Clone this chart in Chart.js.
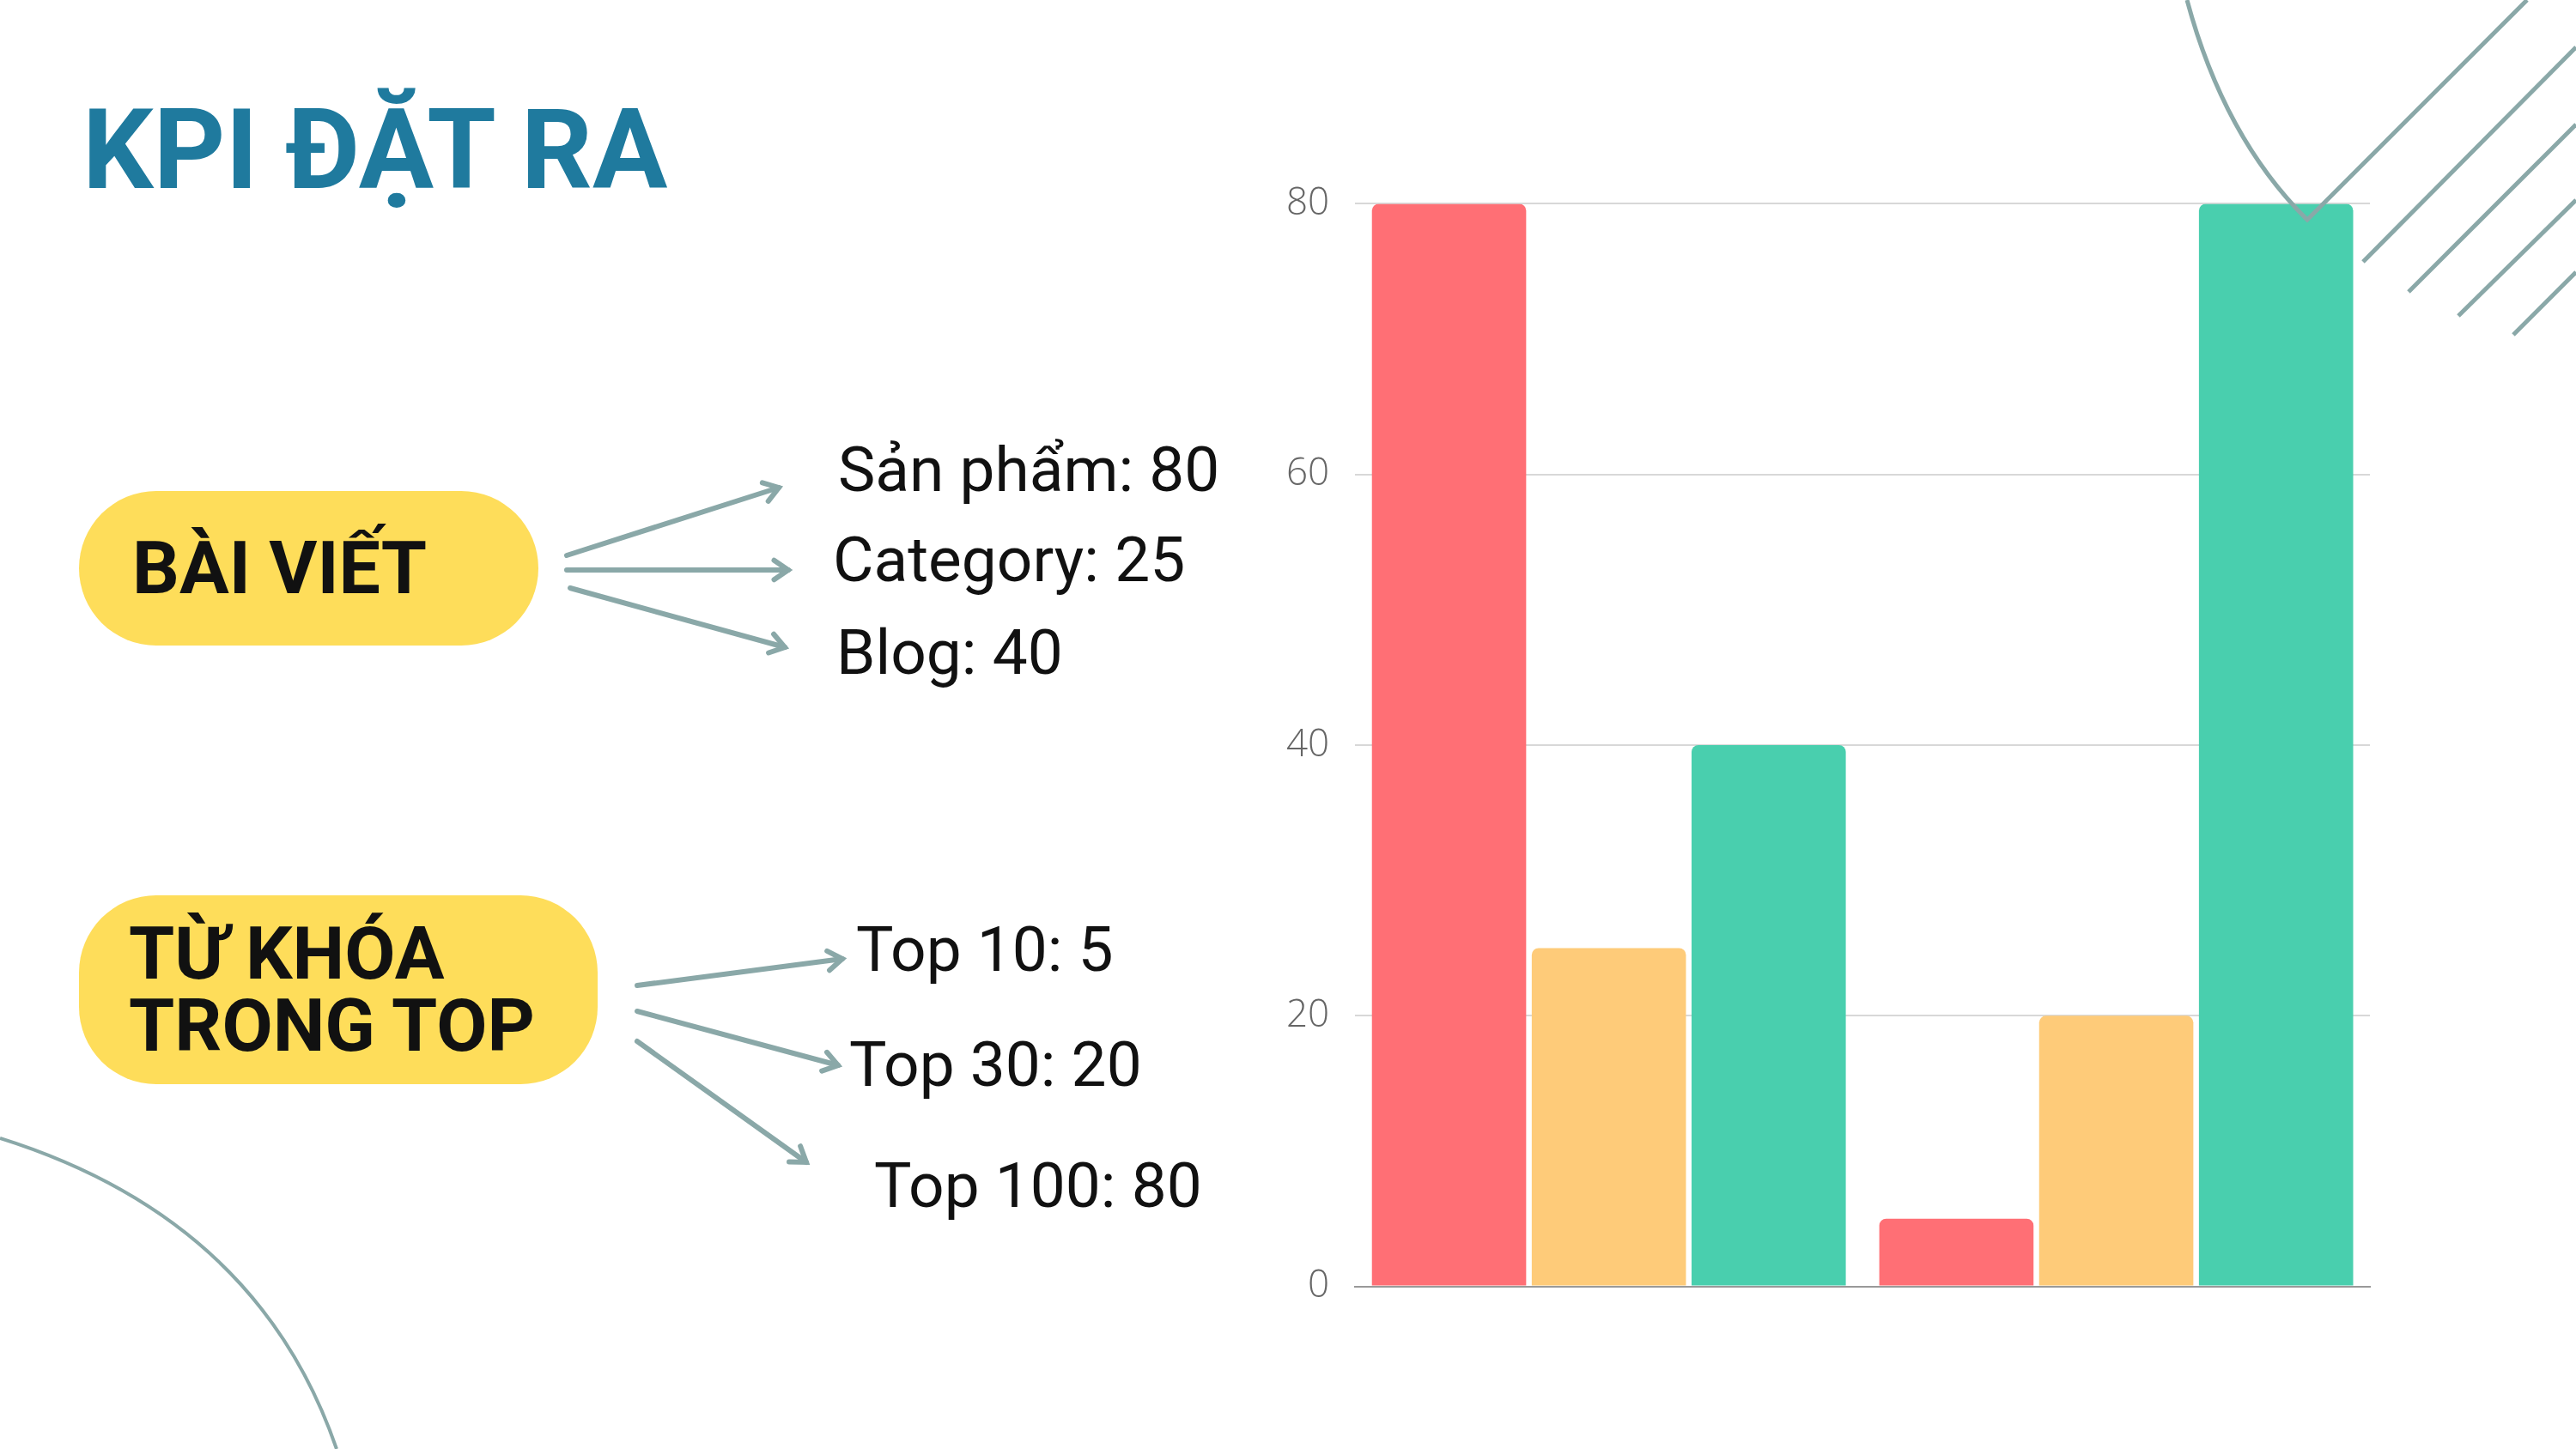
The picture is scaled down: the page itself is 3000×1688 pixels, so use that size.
<!DOCTYPE html>
<html>
<head>
<meta charset="utf-8">
<script src="https://cdn.jsdelivr.net/npm/chart.js@4"></script>
<style>
  body { margin: 0; background: #fff; }
  #page { position: relative; width: 3000px; height: 1688px; overflow: hidden; font-family: Roboto, sans-serif; }
  #chartBox { position: absolute; left: 1468px; top: 181px; width: 1312px; height: 1374px; }
  .title { position: absolute; left: 96px; top: 98px; font-size: 130px; font-weight: 700; color: #1f7a9e; }
  .pill { position: absolute; background: #fedd5a; border-radius: 90px; font-weight: 700; color: #111; font-size: 86px; line-height: 84px; }
  .lbl { position: absolute; font-size: 73px; color: #111; white-space: nowrap; transform: translateY(-50%); }
  svg { position: absolute; left: 0; top: 0; pointer-events: none; }
</style>
</head>
<body>
<div id="page">
  <div class="title">KPI ĐẶT RA</div>
  <div class="pill" style="left:92px;top:572px;width:535px;height:180px;"><div style="position:absolute;left:62px;top:48px;">BÀI VIẾT</div></div>
  <div class="pill" style="left:92px;top:1043px;width:604px;height:220px;"><div style="position:absolute;left:58px;top:26px;">TỪ KHÓA<br>TRONG TOP</div></div>
  <div class="lbl" style="left:976px;top:547px;">Sản phẩm: 80</div>
  <div class="lbl" style="left:970px;top:652px;">Category: 25</div>
  <div class="lbl" style="left:974px;top:760px;">Blog: 40</div>
  <div class="lbl" style="left:997px;top:1106px;">Top 10: 5</div>
  <div class="lbl" style="left:989px;top:1240px;">Top 30: 20</div>
  <div class="lbl" style="left:1018px;top:1381px;">Top 100: 80</div>
  <div id="chartBox"><canvas id="kpiChart"></canvas></div>
  <svg width="3000" height="1688" id="deco"></svg>
</div>
<script>
const categories = ["Bài viết", "Từ khóa trong top"];
const seriesNames = ["Sản phẩm / Top 10", "Category / Top 30", "Blog / Top 100"];
const seriesRed = [80, 5];
const seriesYellow = [25, 20];
const seriesGreen = [40, 80];
const yTicks = [0, 20, 40, 60, 80];

// arrows and decorative lines
const deco = document.getElementById("deco");
const stroke = "#8aa8a8";
const arrows = [
  [660, 647, 907, 568], [660, 664, 918, 664], [664, 685, 914, 754],
  [742, 1148, 981, 1117], [742, 1178, 976, 1241], [742, 1213, 939, 1354]
];
let svg = "";
arrows.forEach(([x1, y1, x2, y2]) => {
  const a = Math.atan2(y2 - y1, x2 - x1);
  const h = 20;
  const p1 = [x2 - h * Math.cos(a - 0.6), y2 - h * Math.sin(a - 0.6)];
  const p2 = [x2 - h * Math.cos(a + 0.6), y2 - h * Math.sin(a + 0.6)];
  svg += `<line x1="${x1}" y1="${y1}" x2="${x2}" y2="${y2}" stroke="${stroke}" stroke-width="6" stroke-linecap="round"/>`;
  svg += `<polyline points="${p1} ${x2},${y2} ${p2}" fill="none" stroke="${stroke}" stroke-width="6" stroke-linecap="round"/>`;
});
svg += `<path d="M2547,0 Q2590,160 2687,256 L2943,0" fill="none" stroke="${stroke}" stroke-width="5"/>`;
[[2752, 305, 3000, 55], [2805, 340, 3000, 145], [2863, 368, 3000, 233], [2927, 390, 3000, 317]].forEach(([x1, y1, x2, y2]) => {
  svg += `<line x1="${x1}" y1="${y1}" x2="${x2}" y2="${y2}" stroke="${stroke}" stroke-width="5"/>`;
});
svg += `<path d="M0,1326 Q300,1420 392,1688" fill="none" stroke="${stroke}" stroke-width="4"/>`;
deco.innerHTML = svg;

const ctx = document.getElementById("kpiChart").getContext("2d");
const mk = (label, data, color) => ({
  label, data, backgroundColor: color, borderRadius: { topLeft: 8, topRight: 8 }, borderSkipped: "bottom",
  categoryPercentage: 0.945, barPercentage: 0.965
});
new Chart(ctx, {
  type: "bar",
  data: {
    labels: categories,
    datasets: [
      mk(seriesNames[0], seriesRed, "#ff6f75"),
      mk(seriesNames[1], seriesYellow, "#fecb79"),
      mk(seriesNames[2], seriesGreen, "#49cfae")
    ]
  },
  options: {
    responsive: true,
    maintainAspectRatio: false,
    animation: false,
    layout: { padding: { top: 20, right: 20 } },
    plugins: { legend: { display: false }, tooltip: { enabled: false } },
    scales: {
      x: {
        ticks: { display: false },
        grid: { display: false },
        border: { color: "#999", width: 2 }
      },
      y: {
        min: 0, max: 80,
        afterBuildTicks: axis => { axis.ticks = yTicks.map(v => ({ value: v })); },
        ticks: { color: "#666", font: { family: "Open Sans", weight: 300, size: 44 }, padding: 30 },
        grid: { color: "#d8d8d8", lineWidth: 2, drawTicks: false },
        border: { display: false }
      }
    }
  }
});
</script>
</body>
</html>
